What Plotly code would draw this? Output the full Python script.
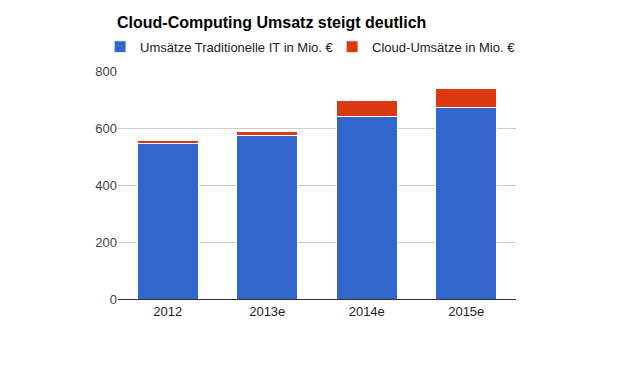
import plotly.graph_objects as go

categories = ["2012", "2013e", "2014e", "2015e"]
traditional_it = [547, 573, 641, 673]
cloud = [9, 14, 57, 67]
series_names = ["Umsätze Traditionelle IT in Mio. €", "Cloud-Umsätze in Mio. €"]
y_ticks = [0, 200, 400, 600, 800]

fig = go.Figure()
fig.add_trace(go.Bar(x=categories, y=traditional_it, name=series_names[0], legend="legend",
                     marker=dict(color="#3366cc", line=dict(color="white", width=1))))
fig.add_trace(go.Bar(x=categories, y=cloud, name=series_names[1], legend="legend2",
                     marker=dict(color="#dc3912", line=dict(color="white", width=1))))

leg_common = dict(orientation="h", xanchor="left", y=1.172, yanchor="top",
                  font=dict(size=13, color="#222"), bgcolor="rgba(0,0,0,0)")
fig.update_layout(
    barmode="stack",
    bargap=0.39,
    width=632, height=371,
    margin=dict(l=118, r=116, t=71, b=72, autoexpand=False),
    paper_bgcolor="white", plot_bgcolor="white",
    font=dict(family="Liberation Sans, Arial, sans-serif", size=13, color="#444"),
    title=dict(text="<b>Cloud-Computing Umsatz steigt deutlich</b>",
               x=117/632, xanchor="left", y=1-22/371, yanchor="middle",
               font=dict(size=16, color="#000")),
    legend=dict(x=-0.045, **leg_common),
    legend2=dict(x=-0.045 + 232/398, **leg_common),
    showlegend=True,
)
fig.update_yaxes(range=[0, 800], tickvals=y_ticks, showgrid=True, gridcolor="#cccccc",
                 zeroline=False, ticks="", tickfont=dict(size=13, color="#444"))
fig.update_xaxes(showline=True, linecolor="#333", linewidth=1, ticks="",
                 tickfont=dict(size=13, color="#222"))

fig.write_html("out.html", post_script="document.body.style.margin='0';",
               config={"displayModeBar": False})
